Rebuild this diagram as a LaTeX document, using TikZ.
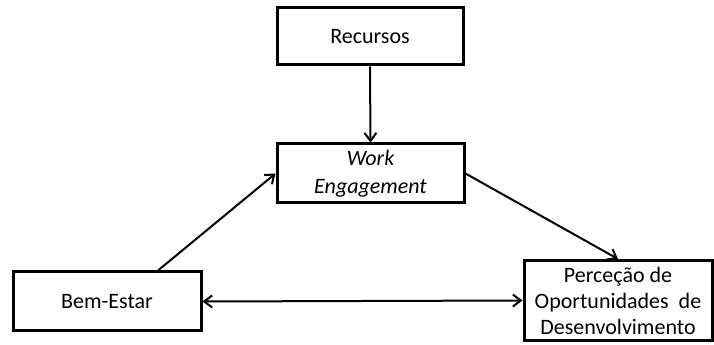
\documentclass[tikz,border=0pt]{standalone}
\usepackage{fontspec}
\setmainfont{Carlito}
\usetikzlibrary{arrows.meta}
\begin{document}
\begin{tikzpicture}[x=0.75pt,y=-0.75pt,
  box/.style={draw=black,line width=2.25pt,fill=white,rectangle,inner sep=0pt,align=center,
    font=\fontsize{16.5}{21}\selectfont},
  conn/.style={line width=1.5pt,-{Straight Barb[length=6pt,width=9pt,line width=1.5pt]}},
  dconn/.style={line width=1.5pt,{Straight Barb[length=6pt,width=9pt,line width=1.5pt]}-{Straight Barb[length=6pt,width=9pt,line width=1.5pt]}}]
\useasboundingbox (0,0) rectangle (714,345);
\node[box,minimum width=186*0.75pt,minimum height=57*0.75pt] (rec) at (370,36.5) {Recursos};
\node[box,minimum width=187*0.75pt,minimum height=59*0.75pt] (we) at (370.5,173.5) {\itshape Work\\\itshape Engagement};
\node[box,minimum width=188*0.75pt,minimum height=59*0.75pt] (bem) at (107,301.5) {Bem-Estar};
\node[box,minimum width=188*0.75pt,minimum height=80*0.75pt,font=\fontsize{16.5}{19.5}\selectfont] (perc) at (618,300.5) {Perceção de\\Oportunidades\ \ de\\Desenvolvimento};
\draw[conn] (rec.south) -- (we.north);
\draw[conn] ([xshift=38.25pt]bem.north) -- (we.west);
\draw[conn] (we.east) -- (perc.north);
\draw[dconn] (bem.east) -- (perc.west);
\end{tikzpicture}
\end{document}
